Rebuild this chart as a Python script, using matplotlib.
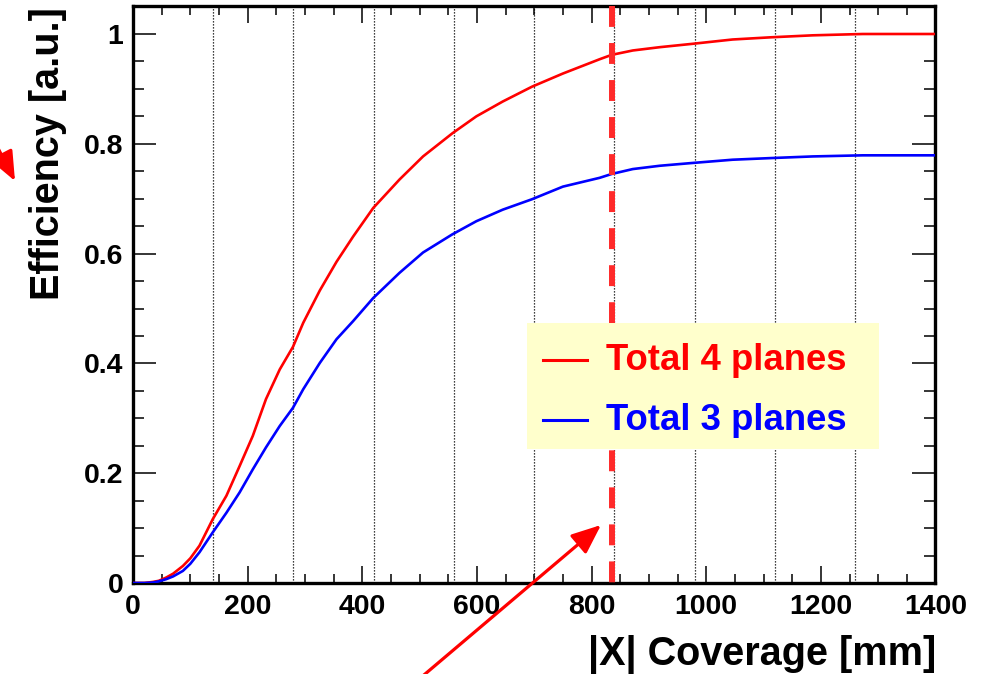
import matplotlib
matplotlib.use("Agg")
import matplotlib.pyplot as plt
from matplotlib.patches import Rectangle, FancyArrowPatch
from matplotlib.lines import Line2D
from matplotlib.ticker import FixedLocator, MultipleLocator

# ---------------- data ----------------
x_mm = [0, 20, 35, 45, 58, 70, 87, 100, 116, 139, 163, 186, 209, 232, 256, 279,
        297, 326, 355, 384, 419, 465, 506, 557, 599, 645, 696, 750, 814, 835,
        872, 919, 975, 1046, 1113, 1186, 1273, 1400]
eff_4planes = [0.0, 0.0, 0.002, 0.004, 0.010, 0.017, 0.031, 0.045, 0.068, 0.116,
               0.159, 0.213, 0.268, 0.335, 0.389, 0.430, 0.474, 0.533, 0.585,
               0.631, 0.683, 0.735, 0.777, 0.819, 0.850, 0.877, 0.904, 0.928,
               0.954, 0.962, 0.970, 0.976, 0.982, 0.990, 0.994, 0.9976, 1.0, 1.0]
eff_3planes = [0.0, 0.0, 0.001, 0.003, 0.007, 0.012, 0.022, 0.035, 0.056, 0.092,
               0.128, 0.165, 0.207, 0.247, 0.286, 0.319, 0.353, 0.401, 0.444,
               0.477, 0.519, 0.565, 0.602, 0.635, 0.659, 0.680, 0.699, 0.722,
               0.738, 0.745, 0.754, 0.760, 0.765, 0.771, 0.774, 0.777, 0.779, 0.779]
series_labels = ["Total 4 planes", "Total 3 planes"]
series_colors = ["#ff0000", "#0000ff"]

x_tick_values = [0, 200, 400, 600, 800, 1000, 1200, 1400]
x_tick_labels = ["0", "200", "400", "600", "800", "1000", "1200", "1400"]
y_tick_values = [0.0, 0.2, 0.4, 0.6, 0.8, 1.0]
y_tick_labels = ["0", "0.2", "0.4", "0.6", "0.8", "1"]
grid_x_mm = [140, 280, 420, 560, 700, 840, 980, 1120, 1260]
coverage_cut_mm = 835

x_label = "|X| Coverage [mm]"
y_label = "Efficiency [a.u.]"

# ---------------- figure ----------------
W, H = 987, 674
plt.rcParams['font.family'] = ['Liberation Sans', 'DejaVu Sans']
plt.rcParams['font.weight'] = 'bold'

fig = plt.figure(figsize=(W / 100, H / 100), dpi=100)

def fx(x):
    return x / W

def fy(y):
    return 1 - y / H

ax_l, ax_r, ax_t, ax_b = 133, 935.5, 6, 583
ax = fig.add_axes([fx(ax_l), fy(ax_b), (ax_r - ax_l) / W, (ax_b - ax_t) / H])
ax.set_xlim(0, 1400)
ax.set_ylim(0, (ax_b - ax_t) / (ax_b - 34))

# dotted vertical grid
for gx in grid_x_mm:
    ax.axvline(gx, color='black', lw=0.9, linestyle=(0, (1, 1.4)), zorder=1)

# curves
ax.plot(x_mm, eff_4planes, color=series_colors[0], lw=1.9, zorder=3)
ax.plot(x_mm, eff_3planes, color=series_colors[1], lw=1.9, zorder=3)

# dashed cut line
ymax = ax.get_ylim()[1]
ax.plot([coverage_cut_mm, coverage_cut_mm], [ymax, 0], color='#ff2a2a', lw=4.3,
        dashes=(3.5, 2.7), solid_capstyle='butt', dash_capstyle='butt', zorder=4,
        clip_on=True)

# spines / ticks
for s in ax.spines.values():
    s.set_linewidth(2.4)
ax.xaxis.set_major_locator(FixedLocator(x_tick_values))
ax.xaxis.set_minor_locator(MultipleLocator(50))
ax.yaxis.set_major_locator(FixedLocator(y_tick_values))
ax.yaxis.set_minor_locator(MultipleLocator(0.05))
ax.set_xticklabels(x_tick_labels)
ax.set_yticklabels(y_tick_labels)
ax.tick_params(which='both', direction='in', top=True, right=True, width=1.1,
               labelsize=20.5)
ax.tick_params(axis='x', which='major', length=12.2, pad=8)
ax.tick_params(axis='x', which='minor', length=6.3)
ax.tick_params(axis='y', which='major', length=16.6, pad=7)
ax.tick_params(axis='y', which='minor', length=8)
for lab in ax.get_xticklabels() + ax.get_yticklabels():
    lab.set_fontweight('bold')

# axis titles
fig.text(fx(936), fy(665.5), x_label, ha='right', va='baseline', fontsize=28.5,
         fontweight='bold')
fig.text(fx(59), fy(7), y_label, rotation=90, rotation_mode='anchor', ha='right',
         va='baseline', fontsize=28.5, fontweight='bold')

# legend box
leg_x0, leg_x1, leg_y0, leg_y1 = 527, 879, 323, 449
fig.add_artist(Rectangle((fx(leg_x0), fy(leg_y1)), (leg_x1 - leg_x0) / W,
                         (leg_y1 - leg_y0) / H, transform=fig.transFigure,
                         facecolor='#ffffcc', edgecolor='none', zorder=5))
rows = [(360, 370), (420, 430)]
for (line_y, base_y), lab, col in zip(rows, series_labels, series_colors):
    fig.add_artist(Line2D([fx(543), fx(587)], [fy(line_y), fy(line_y)],
                          transform=fig.transFigure, color=col, lw=2.2, zorder=6))
    fig.text(fx(606), fy(base_y), lab, color=col, fontsize=26.3, fontweight='bold',
             ha='left', va='baseline', zorder=6)

# annotation arrows
arrow_kw = dict(transform=fig.transFigure, color='#ff0000', lw=2.3,
                arrowstyle='-|>,head_length=18,head_width=7.5', mutation_scale=1,
                shrinkA=0, shrinkB=0, zorder=7, clip_on=False)
fig.add_artist(FancyArrowPatch((fx(418), fy(680)), (fx(601), fy(525)), **arrow_kw))
fig.add_artist(FancyArrowPatch((fx(-13), fy(127)), (fx(15), fy(181)), **arrow_kw))

fig.savefig("out.png", dpi=100)
